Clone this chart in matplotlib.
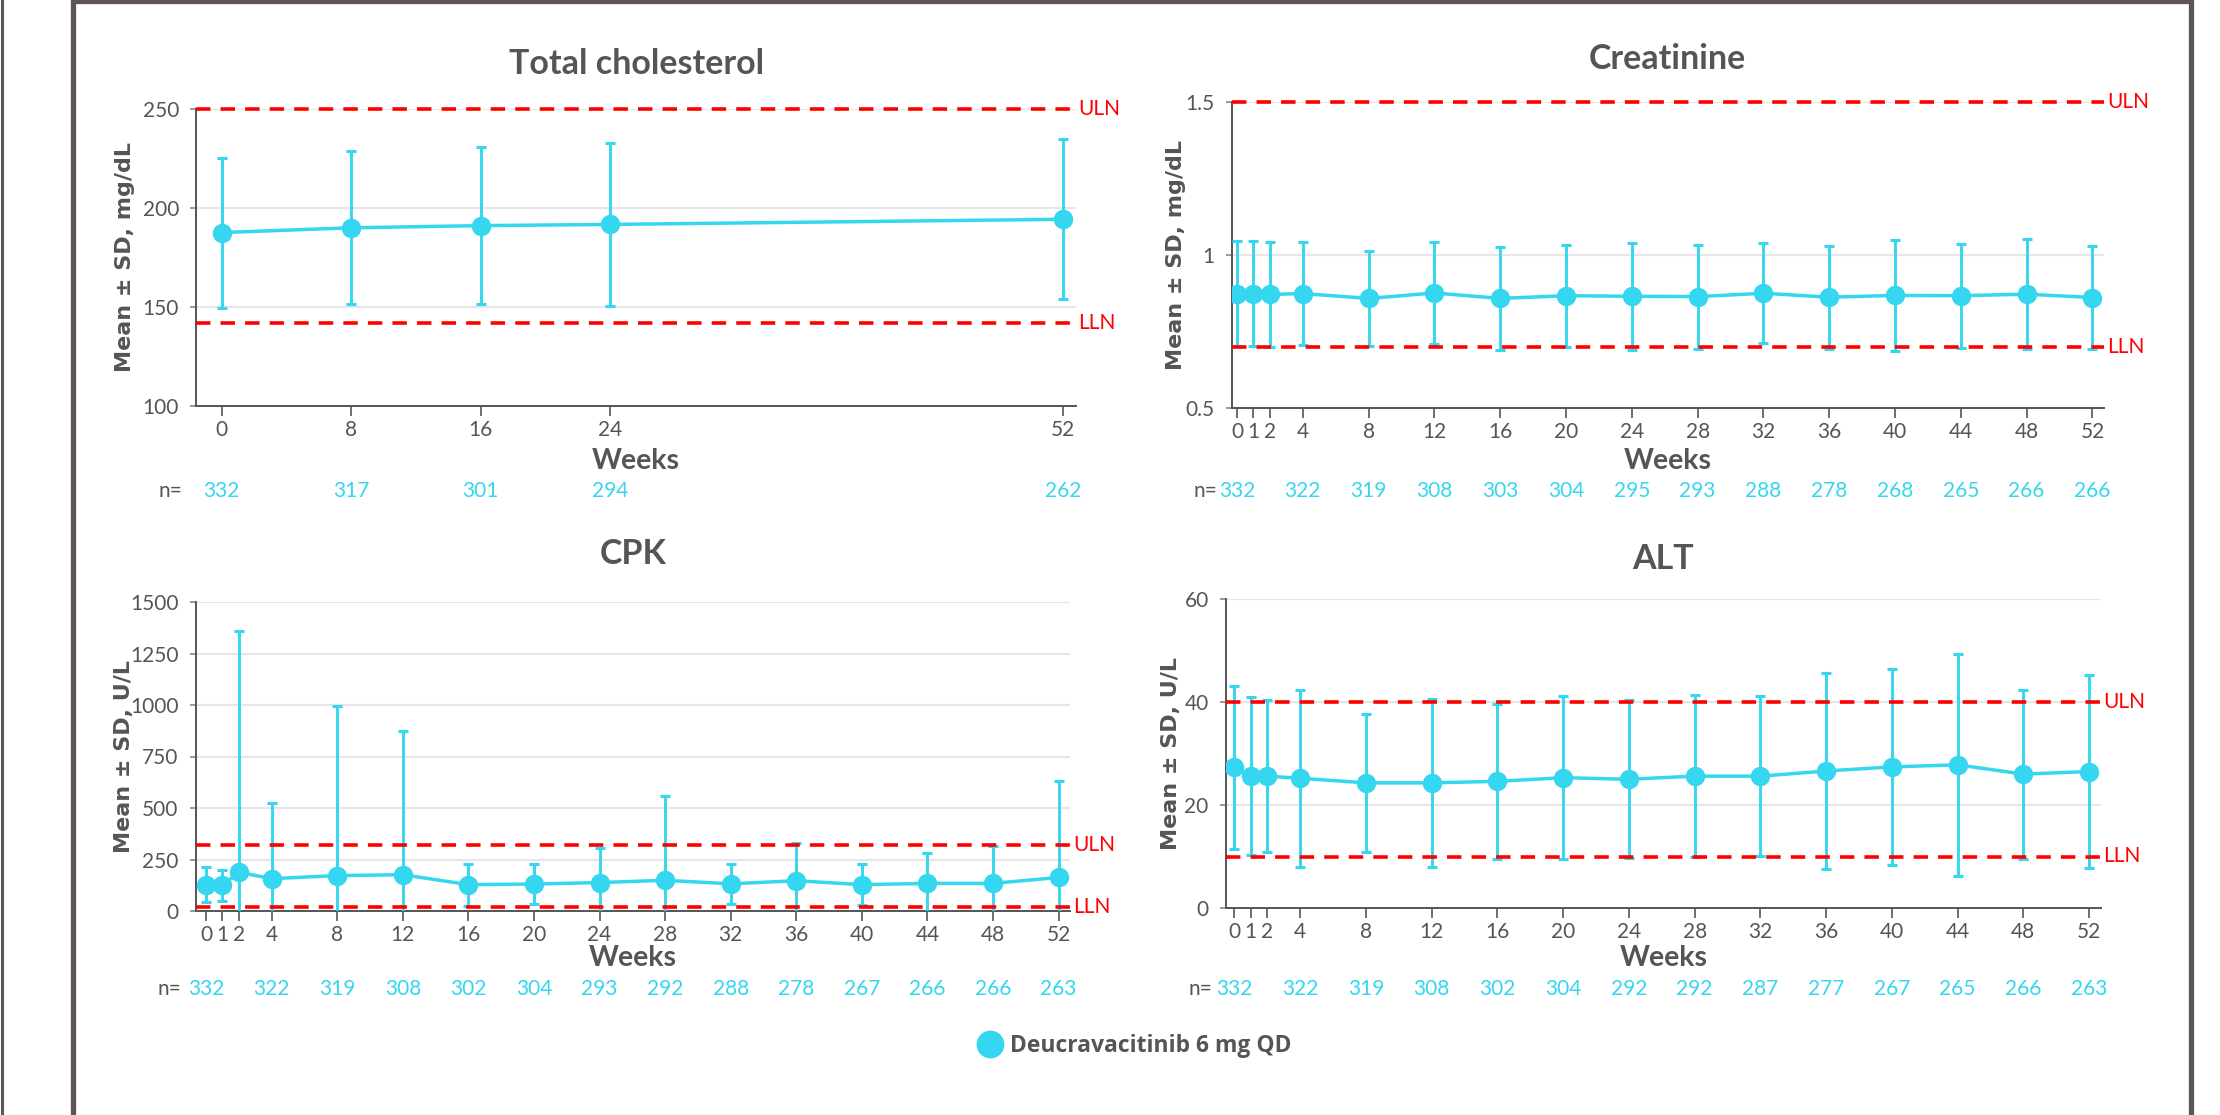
import matplotlib
matplotlib.use('Agg')
import matplotlib.pyplot as plt
from matplotlib.lines import Line2D
from matplotlib.transforms import blended_transform_factory

# data
chol_weeks = [0, 8, 16, 24, 52]
chol_mean = [187.6, 190.0, 191.1, 191.7, 194.3]
chol_sd = [37.9, 38.6, 39.7, 41.0, 40.4]
chol_n = [332, 317, 301, 294, 262]

weeks = [0, 1, 2, 4, 8, 12, 16, 20, 24, 28, 32, 36, 40, 44, 48, 52]
n_weeks = [0, 4, 8, 12, 16, 20, 24, 28, 32, 36, 40, 44, 48, 52]

creat_mean = [0.874, 0.874, 0.871, 0.874, 0.858, 0.876, 0.858, 0.867,
              0.865, 0.864, 0.875, 0.862, 0.868, 0.867, 0.872, 0.861]
creat_sd = [0.171, 0.172, 0.171, 0.167, 0.156, 0.167, 0.167, 0.167,
            0.174, 0.170, 0.164, 0.168, 0.181, 0.170, 0.179, 0.169]
creat_n = [332, 322, 319, 308, 303, 304, 295, 293, 288, 278, 268, 265, 266, 266]

cpk_mean = [127, 124, 188, 157, 172, 176, 128, 131, 138, 149, 132, 147, 128, 134, 134, 163]
cpk_sd = [85, 77, 1173, 367, 823, 697, 102, 97, 169, 407, 97, 185, 99, 146, 183, 469]
cpk_n = [332, 322, 319, 308, 302, 304, 293, 292, 288, 278, 267, 266, 266, 263]

alt_mean = [27.3, 25.6, 25.6, 25.2, 24.3, 24.3, 24.6, 25.3,
            25.0, 25.6, 25.6, 26.6, 27.4, 27.8, 26.0, 26.5]
alt_sd = [15.9, 15.4, 14.7, 17.2, 13.4, 16.3, 15.1, 15.8,
          15.3, 15.7, 15.5, 19.1, 19.0, 21.6, 16.4, 18.7]
alt_n = [332, 322, 319, 308, 302, 304, 292, 292, 287, 277, 267, 265, 266, 263]

W, H = 2220, 1115
CYAN = '#35d6ef'
RED = '#ff0000'
TXT = '#555555'
FRAME = '#5f5558'

plt.rcParams['font.family'] = ['Lato', 'DejaVu Sans']

fig = plt.figure(figsize=(W / 100, H / 100), dpi=100)


def panel(box, xlim, ylim, yticks, yticklabels, title, ylabel, x, mean, sd,
          n_x, n_vals, uln, lln, title_y, weeks_y, n_y, ylabel_x):
    left, top, right, bottom = box
    ax = fig.add_axes([left / W, 1 - bottom / H, (right - left) / W, (bottom - top) / H])
    ax.set_xlim(*xlim)
    ax.set_ylim(*ylim)
    ax.set_xticks(x)
    ax.set_yticks(yticks)
    ax.set_yticklabels(yticklabels)
    ax.grid(axis='y', color='#e6e6e6', lw=1.5)
    ax.set_axisbelow(True)
    for s in ['top', 'right']:
        ax.spines[s].set_visible(False)
    for s in ['left', 'bottom']:
        ax.spines[s].set_color('#555555')
        ax.spines[s].set_linewidth(1.4)
    ax.tick_params(axis='x', length=7, width=1.2, color='#555555', pad=3,
                   labelsize=15, labelcolor=TXT)
    ax.tick_params(axis='y', length=4.5, width=1.2, color='#888888', pad=8,
                   labelsize=15, labelcolor=TXT)

    ax.errorbar(x, mean, yerr=sd, color=CYAN, lw=2.5, marker='o', ms=13,
                markeredgecolor=CYAN, elinewidth=2.1, capsize=3.8, capthick=2.2,
                zorder=3)

    for v, lab in ((uln, 'ULN'), (lln, 'LLN')):
        ax.axhline(v, color=RED, lw=2.6, dashes=(4, 2.8), zorder=4, clip_on=False)
        ax.annotate(lab, xy=(1, v), xycoords=('axes fraction', 'data'),
                    xytext=(2, 0), textcoords='offset points',
                    va='center', ha='left', color=RED, fontsize=15,
                    annotation_clip=False)

    ax.set_ylabel(ylabel, family='DejaVu Sans', fontweight='bold', fontsize=16,
                  color=TXT, va='center')
    ax.yaxis.set_label_coords((ylabel_x - left) / (right - left), 0.5)

    cx = (left + right) / 2 / W
    fig.text(cx, 1 - title_y / H, title, ha='center', va='center',
             fontsize=24.5, fontweight='bold', color=TXT)
    fig.text(cx, 1 - weeks_y / H, 'Weeks', ha='center', va='center',
             fontsize=20.5, fontweight='bold', color=TXT)
    fig.text((left - 14) / W, 1 - n_y / H, 'n=', ha='right', va='center',
             fontsize=15, color=TXT)
    tr = blended_transform_factory(ax.transData, fig.transFigure)
    for xi, ni in zip(n_x, n_vals):
        ax.text(xi, 1 - n_y / H, str(ni), transform=tr, ha='center', va='center',
                color=CYAN, fontsize=15)
    return ax


panel((196.4, 109, 1075.8, 406), (-1.57, 52.77), (100, 250), [100, 150, 200, 250],
      ['100', '150', '200', '250'], 'Total cholesterol', 'Mean ± SD, mg/dL',
      chol_weeks, chol_mean, chol_sd, chol_weeks, chol_n, 250, 142,
      64, 461, 491, 125)

panel((1231.6, 102, 2104, 408), (-0.33, 52.7), (0.5, 1.5), [0.5, 1, 1.5],
      ['0.5', '1', '1.5'], 'Creatinine', 'Mean ± SD, mg/dL',
      weeks, creat_mean, creat_sd, n_weeks, creat_n, 1.5, 0.7,
      59, 461, 491, 1176)

panel((195.7, 602, 1070.3, 911), (-0.63, 52.71), (0, 1500),
      [0, 250, 500, 750, 1000, 1250, 1500],
      ['0', '250', '500', '750', '1000', '1250', '1500'], 'CPK', 'Mean ± SD, U/L',
      weeks, cpk_mean, cpk_sd, n_weeks, cpk_n, 320, 20,
      554, 958, 989, 124)

panel((1226, 599, 2100.7, 908), (-0.51, 52.71), (0, 60), [0, 20, 40, 60],
      ['0', '20', '40', '60'], 'ALT', 'Mean ± SD, U/L',
      weeks, alt_mean, alt_sd, n_weeks, alt_n, 40, 10,
      559, 958, 989, 1171)

handle = Line2D([], [], marker='o', ls='', ms=20, color=CYAN, mew=0)
fig.legend(handles=[handle], labels=['Deucravacitinib 6 mg QD'], loc='center',
           bbox_to_anchor=(1135 / W, 1 - 1046 / H), frameon=False,
           prop=dict(family='Open Sans', weight='bold', size=16.5),
           labelcolor=TXT, handlelength=1.0, handletextpad=0.4)

# page frame
fig.add_artist(Line2D([1.5 / W, 1.5 / W], [0, 1], transform=fig.transFigure,
                      color=FRAME, lw=2.2))
fig.add_artist(Line2D([72.5 / W, 72.5 / W, 2191 / W, 2191 / W],
                      [0, 1 - 0.5 / H, 1 - 0.5 / H, 0], transform=fig.transFigure,
                      color=FRAME, lw=3.8, solid_joinstyle='miter'))

fig.savefig('out.png', dpi=100)
